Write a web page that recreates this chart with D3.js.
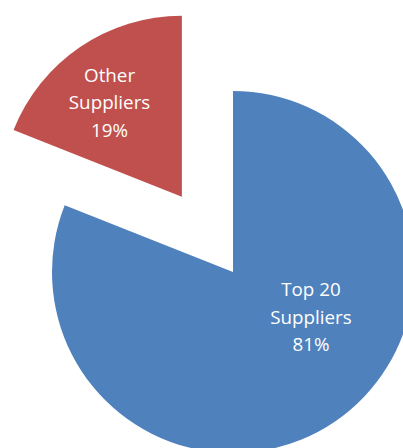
<!DOCTYPE html>
<html>
<head>
<meta charset="utf-8">
<script src="https://cdn.jsdelivr.net/npm/d3@7"></script>
<style>
  html, body { margin: 0; padding: 0; background: #fff; }
  svg { display: block; }
</style>
</head>
<body>
<div id="chart"></div>
<script>
// Supplier share of spend
const categories = ["Top 20 Suppliers", "Other Suppliers"];
const shares = [81, 19];
const colors = ["#4F81BD", "#C0504D"];
const explode = [0, 91];

const width = 403, height = 448;
const cx = 233, cy = 272, radius = 181;

const svg = d3.select("#chart").append("svg")
  .attr("width", width).attr("height", height);

const pie = d3.pie().sort(null).value(d => d.value);
const arcs = pie(categories.map((c, i) => ({ name: c, value: shares[i], i })));

const arc = d3.arc().innerRadius(0).outerRadius(radius);

const g = svg.append("g").attr("transform", `translate(${cx},${cy})`);

const slice = g.selectAll("g.slice").data(arcs).join("g")
  .attr("class", "slice")
  .attr("transform", d => {
    const mid = (d.startAngle + d.endAngle) / 2;
    const off = explode[d.data.i];
    return `translate(${off * Math.sin(mid)},${-off * Math.cos(mid)})`;
  });

slice.append("path")
  .attr("d", arc)
  .attr("fill", d => colors[d.data.i]);

// label anchor: angle shift and radial fraction inside each slice
const labelShift = [-0.45, -0.058];
const labelFrac = [0.4975, 0.656];
function labelPos(d) {
  const a = (d.startAngle + d.endAngle) / 2 + labelShift[d.data.i];
  const r = radius * labelFrac[d.data.i];
  return [r * Math.sin(a), -r * Math.cos(a)];
}

const lineH = 27.6;
slice.each(function(d) {
  const [x, y] = labelPos(d);
  const words = d.data.name.split(" ");
  const lines = words.length > 2
    ? [words.slice(0, 2).join(" "), words.slice(2).join(" ")]
    : [words[0], words.slice(1).join(" ")];
  lines.push(d.data.value + "%");
  const t = d3.select(this).append("text")
    .attr("text-anchor", "middle")
    .attr("fill", "#ffffff")
    .style("font-family", "'Open Sans', sans-serif")
    .style("font-size", "18.8px");
  lines.forEach((ln, k) => {
    t.append("tspan")
      .attr("x", x)
      .attr("y", y + (k - (lines.length - 1) / 2) * lineH)
      .attr("dy", "0.355em")
      .text(ln);
  });
});
</script>
</body>
</html>
